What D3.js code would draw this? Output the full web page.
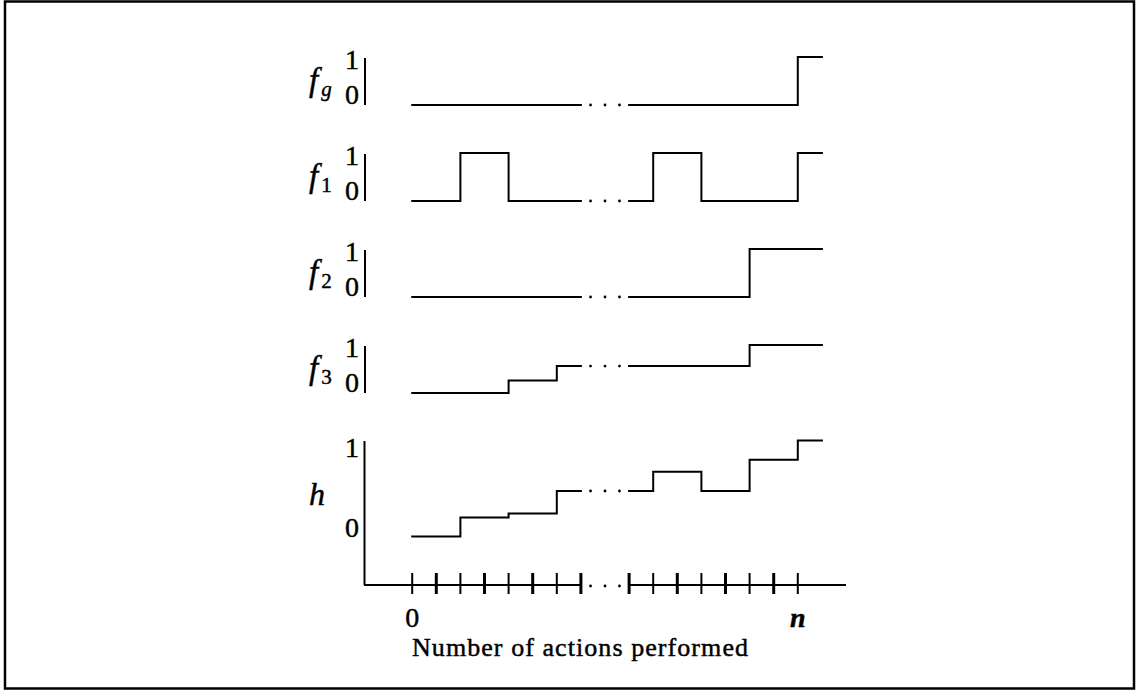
<!DOCTYPE html>
<html>
<head>
<meta charset="utf-8">
<script src="https://cdn.jsdelivr.net/npm/d3@7"></script>
<style>
  html, body { margin: 0; padding: 0; background: #fff; }
  svg text { font-family: "Liberation Serif", "DejaVu Serif", serif; fill: #000; stroke: #000; stroke-width: 0.45; }
</style>
</head>
<body>
<svg id="chart" width="1136" height="690"></svg>
<script>
// ---- data (index of action, value per step; null = elided part "...") ----
const actionIndex = d3.range(0, 18);            // 0 .. 17 (index 8 elided)
const tickIndex   = [0,1,2,3,4,5,6,7,9,10,11,12,13,14,15,16];
const dotIndex    = [7.4, 8.0, 8.6];
const xTickLabels = [{i: 0, t: "0", italic: false}, {i: 16, t: "n", italic: true}];

const fgValues = [0,0,0,0,0,0,0,0,null,0,0,0,0,0,0,0,1,1];
const f1Values = [0,0,1,1,0,0,0,0,null,0,1,1,0,0,0,0,1,1];
const f2Values = [0,0,0,0,0,0,0,0,null,0,0,0,0,0,1,1,1,1];
const f3Values = [0,0,0,0,0.26,0.26,0.56,0.56,null,0.56,0.56,0.56,0.56,0.56,1,1,1,1];
const hValues  = [-0.12,-0.12,0.12,0.12,0.17,0.17,0.45,0.45,null,0.45,0.69,0.69,0.45,0.45,0.84,0.84,1.08,1.08];

const panelNames = ["g", "1", "2", "3"];
const panelSeries = [fgValues, f1Values, f2Values, f3Values];
const yTickLabels = ["0", "1"];
const xTitle = "Number of actions performed";

// ---- layout ----
const svg = d3.select("#chart");
svg.append("rect").attr("x", 5).attr("y", 1.5).attr("width", 1129).attr("height", 687)
  .attr("fill", "none").attr("stroke", "#000").attr("stroke-width", 2.5);

const x = d3.scaleLinear().domain([-2, 18]).range([364, 846]);

const panelLow0 = 105, panelStep = 96, panelH = 48;

function drawSeries(values, y) {
  const data = actionIndex.map(i => ({i, v: values[i]}));
  const line = d3.line()
    .defined(d => d.v !== null)
    .x(d => x(d.i)).y(d => y(d.v))
    .curve(d3.curveStepAfter);
  svg.append("path").attr("d", line(data))
    .attr("fill", "none").attr("stroke", "#000").attr("stroke-width", 2)
    .attr("stroke-linejoin", "miter").attr("stroke-linecap", "square");
  const gapV = values[7];
  svg.selectAll(null).data(dotIndex).enter().append("circle")
    .attr("cx", d => x(d)).attr("cy", y(gapV)).attr("r", 1.4).attr("fill", "#000");
}

function fLabel(cy, sub) {
  const t = svg.append("text").attr("x", 309).attr("y", cy + 10)
    .attr("font-size", 33).attr("font-style", "italic");
  t.append("tspan").text("f");
  t.append("tspan").attr("dx", 3).attr("dy", 5)
    .attr("font-size", 21).attr("font-style", sub === "g" ? "italic" : "normal").text(sub);
}

panelSeries.forEach((vals, k) => {
  const low = panelLow0 + k * panelStep;
  const y = d3.scaleLinear().domain([0, 1]).range([low, low - panelH]);
  svg.append("line").attr("x1", 365).attr("x2", 365).attr("y1", y(1) + 1).attr("y2", y(0))
    .attr("stroke", "#000").attr("stroke-width", 2);
  svg.append("text").attr("x", 352).attr("y", y(1) + 12).attr("text-anchor", "middle")
    .attr("font-size", 28).text(yTickLabels[1]);
  svg.append("text").attr("x", 352).attr("y", y(0) - 1).attr("text-anchor", "middle")
    .attr("font-size", 28).text(yTickLabels[0]);
  fLabel((y(0) + y(1)) / 2, panelNames[k]);
  drawSeries(vals, y);
});

// ---- h panel ----
const yh = d3.scaleLinear().domain([0, 1]).range([527, 447]);
const axisY = 585;
svg.append("line").attr("x1", 364.5).attr("x2", 364.5).attr("y1", 441).attr("y2", axisY)
  .attr("stroke", "#000").attr("stroke-width", 2);
svg.append("text").attr("x", 352).attr("y", yh(1) + 10).attr("text-anchor", "middle")
  .attr("font-size", 28).text(yTickLabels[1]);
svg.append("text").attr("x", 352).attr("y", yh(0) + 10).attr("text-anchor", "middle")
  .attr("font-size", 28).text(yTickLabels[0]);
svg.append("text").attr("x", 317).attr("y", 505).attr("text-anchor", "middle")
  .attr("font-size", 32).attr("font-style", "italic").text("h");
drawSeries(hValues, yh);

// ---- x axis ----
const segs = [[-2, 7], [9, 18]];
segs.forEach(s => svg.append("line").attr("x1", x(s[0])).attr("x2", x(s[1]))
  .attr("y1", axisY).attr("y2", axisY).attr("stroke", "#000").attr("stroke-width", 2));
svg.selectAll(null).data(tickIndex).enter().append("line")
  .attr("x1", d => x(d)).attr("x2", d => x(d)).attr("y1", 573).attr("y2", 594)
  .attr("stroke", "#000").attr("stroke-width", d => d % 2 ? 3 : 2);
svg.selectAll(null).data(dotIndex).enter().append("circle")
  .attr("cx", d => x(d)).attr("cy", axisY + 1).attr("r", 1.4).attr("fill", "#000");
svg.selectAll(null).data(xTickLabels).enter().append("text")
  .attr("x", d => x(d.i)).attr("y", 627).attr("text-anchor", "middle")
  .attr("font-size", 28).attr("font-style", d => d.italic ? "italic" : "normal")
  .attr("font-weight", d => d.italic ? "bold" : "normal")
  .text(d => d.t);
svg.append("text").attr("x", 580).attr("y", 656).attr("text-anchor", "middle")
  .attr("font-size", 26).attr("textLength", 336).attr("lengthAdjust", "spacing").text(xTitle);
</script>
</body>
</html>
